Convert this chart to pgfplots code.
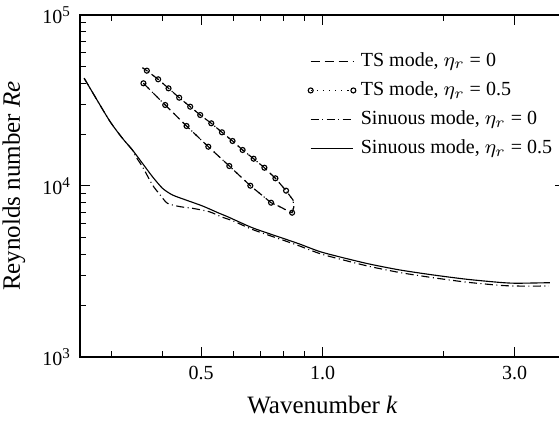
\documentclass[border=0pt]{standalone}
\usepackage{fontspec}
\setmainfont{Liberation Serif}
\usepackage{pgfplots}
\pgfplotsset{compat=1.18}

\pgfplotstableread{
k Re
0.3593 39870
0.4069 29770
0.4597 22430
0.5206 16970
0.587 13090
0.662 10040
0.7454 7985
0.782 7590
0.812 7240
0.8406 6980
0.849 7540
0.845 8280
0.812 9390
0.7641 11090
0.7174 12790
0.6746 14440
0.6334 16240
0.598 18330
0.5628 20610
0.5295 23260
0.4971 26010
0.4694 29090
0.4408 32840
0.4147 37260
0.3909 42070
0.3664 47240
0.357 49180
}\tsloop

\pgfplotstableread{
k Re
0.256 42700
0.2952 24320
0.3187 19010
0.3374 16240
0.344 14840
0.3573 12970
0.3784 10140
0.3954 8860
0.4122 7920
0.4433 7570
0.4757 7405
0.5236 7073
0.5649 6560
0.6 6250
0.671 5560
0.797 4830
0.877 4460
1.0 3980
1.284 3420
1.554 3120
1.88 2910
2.276 2740
2.757 2625
3.03 2600
3.65 2600
}\sinzero

\pgfplotstableread{
k Re
0.256 42700
0.2952 24320
0.3187 19010
0.3374 16240
0.3573 13570
0.3784 11330
0.4007 9690
0.4242 8860
0.4581 8280
0.5038 7640
0.5543 6925
0.5813 6615
0.671 5690
0.797 4950
0.877 4580
1.0 4090
1.284 3530
1.554 3230
1.88 3020
2.276 2850
2.757 2730
3.03 2700
3.67 2720
}\sinhalf

\begin{document}
\begin{tikzpicture}
\begin{axis}[
  scale only axis,
  width=194pt, height=136.8pt,
  at={(0,0)}, anchor=south west,
  xmode=log, ymode=log,
  xmin=0.25, xmax=4, ymin=1000, ymax=100000,
  xtick={0.5,1,3}, xticklabels={0.5,1.0,3.0},
  minor xtick={0.3,0.4,0.6,0.7,0.8,0.9,2,4},
  ytick={1000,10000,100000},
  yticklabels={10\textsuperscript{3},10\textsuperscript{4},10\textsuperscript{5}},
  minor ytick={2000,3000,4000,5000,6000,7000,8000,9000,20000,30000,40000,50000,60000,70000,80000,90000},
  major tick length=4pt, minor tick length=2.4pt,
  tick style={black, line width=0.4pt},
  axis line style={line width=0.5pt},
  tick label style={font=\fontsize{8}{9.6}\selectfont},
  label style={font=\fontsize{10}{12}\selectfont},
  xlabel={Wavenumber \textit{k}},
  ylabel={Reynolds number \textit{Re}},
  legend style={draw=none, fill=none, at={(0.454,0.921)}, anchor=north west,
    font=\fontsize{8}{9.6}\selectfont, row sep=0.6pt},
  legend cell align=left,
  legend image code/.code={\draw[mark repeat=1,mark phase=1,#1] plot coordinates {(0cm,0cm) (0.6cm,0cm)};},
  every axis plot/.append style={line width=0.45pt, black},
]
\addplot[dash pattern=on 3.6pt off 2pt] table[x=k,y=Re] {\tsloop};
\addlegendentry{TS mode, $\eta_r$ = 0}
\addplot[dotted, mark=o, mark size=1pt, mark options={solid, fill=white},
  mark indices={1,2,3,4,5,6,7,10,13,14,15,16,17,18,19,20,21,22,23,24,25,26}] table[x=k,y=Re] {\tsloop};
\addlegendentry{TS mode, $\eta_r$ = 0.5}
\addplot[dash pattern=on 3.2pt off 1.4pt on 0.4pt off 1.4pt, smooth, tension=0.4] table[x=k,y=Re] {\sinzero};
\addlegendentry{Sinuous mode, $\eta_r$ = 0}
\addplot[solid, smooth, tension=0.4] table[x=k,y=Re] {\sinhalf};
\addlegendentry{Sinuous mode, $\eta_r$ = 0.5}
\end{axis}
\pgfresetboundingbox
\useasboundingbox (-32pt,-26pt) rectangle (191.6pt,142.8pt);
\end{tikzpicture}
\end{document}
